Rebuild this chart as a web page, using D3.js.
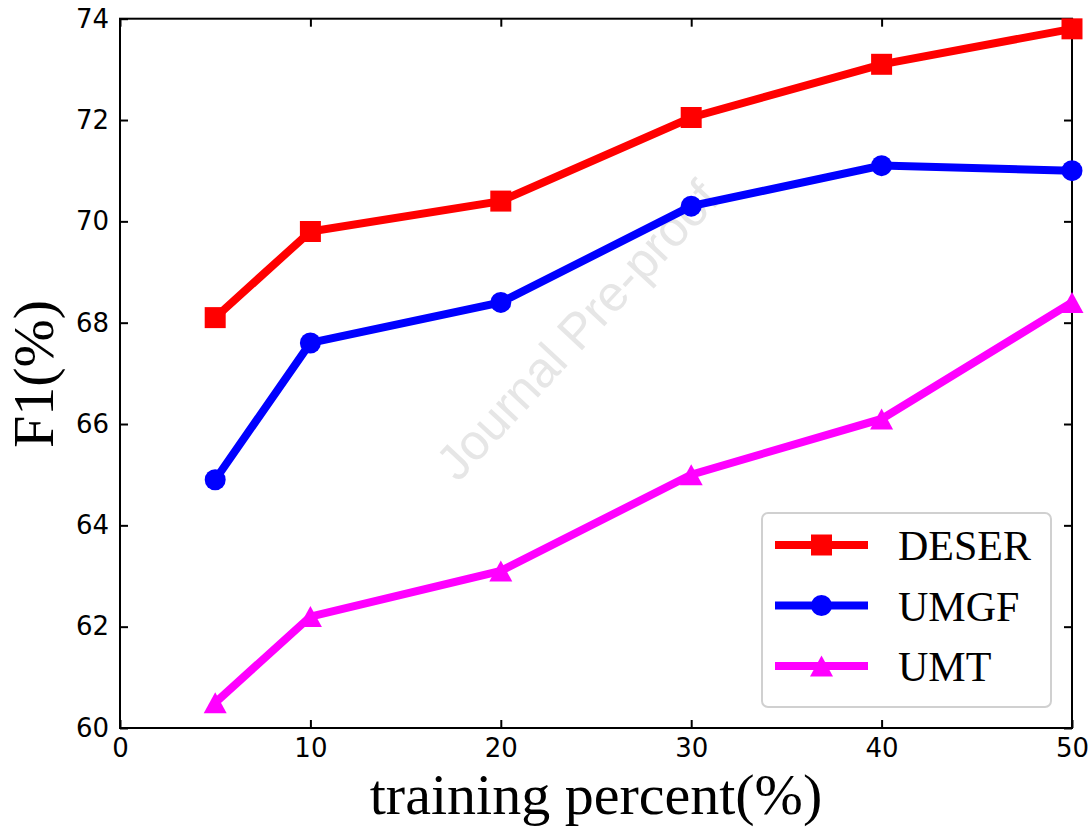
<!DOCTYPE html>
<html>
<head>
<meta charset="utf-8">
<script src="https://cdn.jsdelivr.net/npm/d3@7"></script>
<style>
  body { margin: 0; background: #fff; }
  svg { display: block; }
</style>
</head>
<body>
<div id="chart"></div>
<script>
// donnees
const percents = [5, 10, 20, 30, 40, 50];
const deser = [68.1, 69.8, 70.4, 72.05, 73.1, 73.8];
const umgf = [64.9, 67.6, 68.4, 70.3, 71.1, 71.0];
const umt = [60.5, 62.2, 63.1, 65.0, 66.1, 68.4];
const xTicks = [0, 10, 20, 30, 40, 50];
const yTicks = [60, 62, 64, 66, 68, 70, 72, 74];

const series = [
    { name: "DESER", values: deser, color: "#ff0000", marker: "square" },
    { name: "UMGF", values: umgf, color: "#0000ff", marker: "circle" },
    { name: "UMT", values: umt, color: "#ff00ff", marker: "triangle" }
];

const width = 1091;
const height = 830;
const mLeft = 120, mRight = 1072, mTop = 18.7, mBottom = 728;

const svg = d3.select("#chart")
    .append("svg")
    .attr("width", width)
    .attr("height", height);

const x = d3.scaleLinear().domain([0, 50]).range([mLeft, mRight]);
const y = d3.scaleLinear().domain([60, 74]).range([mBottom, mTop]);

// filigrane
svg.append("text")
    .attr("transform", "translate(580,333) rotate(-47)")
    .attr("text-anchor", "middle")
    .attr("dominant-baseline", "middle")
    .style("font-family", "'Liberation Sans', Arial, sans-serif")
    .style("font-size", "50px")
    .attr("fill", "#e6e6e6")
    .text("Journal Pre-proof");

// axes (ticks vers l'interieur)
const tickFont = "'DejaVu Sans', sans-serif";
function styleAxis(g) {
    g.select(".domain").remove();
    g.selectAll(".tick line").attr("stroke", "#000").attr("stroke-width", 2);
    g.selectAll(".tick text")
        .style("font-family", tickFont)
        .style("font-size", "26px")
        .attr("fill", "#000");
}

svg.append("g")
    .attr("transform", `translate(0,${mBottom})`)
    .call(d3.axisBottom(x).tickValues(xTicks).tickSize(-8).tickPadding(11).tickFormat(d3.format("d")))
    .call(styleAxis);

svg.append("g")
    .attr("transform", `translate(0,${mTop})`)
    .call(d3.axisTop(x).tickValues(xTicks).tickSize(-8).tickFormat(""))
    .call(styleAxis);

svg.append("g")
    .attr("transform", `translate(${mLeft},0)`)
    .call(d3.axisLeft(y).tickValues(yTicks).tickSize(-8).tickPadding(11).tickFormat(d3.format("d")))
    .call(styleAxis);

svg.append("g")
    .attr("transform", `translate(${mRight},0)`)
    .call(d3.axisRight(y).tickValues(yTicks).tickSize(-8).tickFormat(""))
    .call(styleAxis);

// cadre
svg.append("rect")
    .attr("x", mLeft)
    .attr("y", mTop)
    .attr("width", mRight - mLeft)
    .attr("height", mBottom - mTop)
    .attr("fill", "none")
    .attr("stroke", "#000")
    .attr("stroke-width", 2);

// marqueurs
const mSize = 21;
function markerPath(type) {
    if (type === "square") return d3.symbol(d3.symbolSquare, mSize * mSize)();
    if (type === "circle") return d3.symbol(d3.symbolCircle, Math.PI * 10.5 * 10.5)();
    const h = mSize / 2, w = 11.5;
    return `M0,${-h}L${w},${h}L${-w},${h}Z`;
}

const line = d3.line()
    .x((d, i) => x(percents[i]))
    .y(d => y(d));

series.forEach(s => {
    svg.append("path")
        .datum(s.values)
        .attr("d", line)
        .attr("fill", "none")
        .attr("stroke", s.color)
        .attr("stroke-width", 8)
        .attr("stroke-linejoin", "miter");

    svg.selectAll(null)
        .data(s.values)
        .join("path")
        .attr("transform", (d, i) => `translate(${x(percents[i])},${y(d)})`)
        .attr("d", markerPath(s.marker))
        .attr("fill", s.color);
});

// legende
const legend = svg.append("g");
legend.append("rect")
    .attr("x", 762)
    .attr("y", 513)
    .attr("width", 289)
    .attr("height", 194)
    .attr("rx", 6)
    .attr("fill", "#fff")
    .attr("fill-opacity", 0.8)
    .attr("stroke", "#d0d0d0")
    .attr("stroke-width", 2);

series.forEach((s, i) => {
    const ly = 545 + i * 60.5;
    legend.append("line")
        .attr("x1", 775).attr("x2", 868)
        .attr("y1", ly).attr("y2", ly)
        .attr("stroke", s.color)
        .attr("stroke-width", 8);
    legend.append("path")
        .attr("transform", `translate(821.5,${ly})`)
        .attr("d", markerPath(s.marker))
        .attr("fill", s.color);
    legend.append("text")
        .attr("x", 898)
        .attr("y", ly + 15)
        .style("font-family", "'Liberation Serif', 'Times New Roman', serif")
        .style("font-size", "42px")
        .text(s.name);
});

// titres des axes
svg.append("text")
    .attr("x", 596)
    .attr("y", 814)
    .attr("text-anchor", "middle")
    .style("font-family", "'Liberation Serif', 'Times New Roman', serif")
    .style("font-size", "58px")
    .text("training percent(%)");

svg.append("text")
    .attr("transform", "translate(53,374) rotate(-90)")
    .attr("text-anchor", "middle")
    .style("font-family", "'Liberation Serif', 'Times New Roman', serif")
    .style("font-size", "58px")
    .text("F1(%)");
</script>
</body>
</html>
